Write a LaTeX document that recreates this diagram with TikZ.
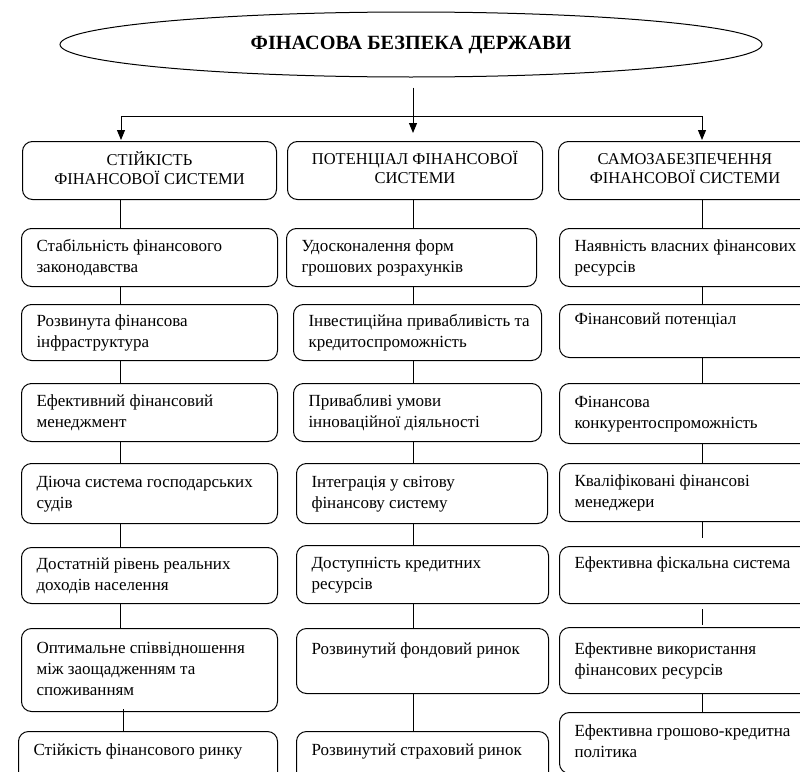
\documentclass[tikz,border=0pt]{standalone}
\usepackage{fontspec}
\setmainfont{Liberation Serif}
\usetikzlibrary{shapes.geometric,arrows.meta}

% left-aligned block of lines inside a box of width #1
\newcommand\lefttext[2]{\makebox[#1][l]{\hspace{15pt}\begin{tabular}{@{}l@{}}#2\end{tabular}}}
% centred block of lines
\newcommand\midtext[1]{\begin{tabular}{@{}c@{}}#1\end{tabular}}

\tikzset{
  x=1pt, y=-1pt,
  itembox/.style={draw, rounded corners=10pt, line width=1pt, inner sep=0pt,
    anchor=north west, font=\fontsize{17}{21}\selectfont},
  headbox/.style={itembox, font=\fontsize{16.5}{19}\selectfont},
  link/.style={line width=1pt},
  arr/.style={line width=1pt, -{Triangle[length=10pt,width=8pt]}},
}

\begin{document}
\begin{tikzpicture}
\useasboundingbox (0,0) rectangle (800,771);
\clip (0,0) rectangle (800,771);

% title
\node[ellipse, draw, line width=1pt, minimum width=702pt, minimum height=65pt,
  inner sep=0pt, font=\fontsize{20.2}{24}\selectfont\bfseries] (title) at (411,44.5)
  {\raisebox{3pt}{ФІНАСОВА БЕЗПЕКА ДЕРЖАВИ}};

% column axes
\coordinate (k1) at (120,0);
\coordinate (k2) at (413,0);
\coordinate (k3) at (702,0);
\coordinate (busL) at (121,116);
\coordinate (busR) at (702,116);

% heads of the three columns
\node[headbox, minimum width=254pt, minimum height=58pt] (t1) at (22,141)
  {\midtext{СТІЙКІСТЬ\\ФІНАНСОВОЇ СИСТЕМИ}};
\node[headbox, minimum width=255pt, minimum height=58pt] (t2) at (287,141)
  {\midtext{ПОТЕНЦІАЛ ФІНАНСОВОЇ\\СИСТЕМИ}};
\node[headbox, minimum width=253pt, minimum height=58pt] (t3) at (558,141)
  {\midtext{САМОЗАБЕЗПЕЧЕННЯ\\ФІНАНСОВОЇ СИСТЕМИ}};

% column 1
\node[itembox, minimum height=58pt] (a1) at (21,228) {\lefttext{256pt}{Стабільність фінансового\\законодавства}};
\node[itembox, minimum height=56pt] (a2) at (21,304) {\lefttext{256pt}{Розвинута фінансова\\інфраструктура}};
\node[itembox, minimum height=58pt] (a3) at (21,383) {\lefttext{256pt}{Ефективний фінансовий\\менеджмент}};
\node[itembox, minimum height=60pt] (a4) at (21,463) {\lefttext{256pt}{Діюча система господарських\\судів}};
\node[itembox, minimum height=56pt] (a5) at (21,547) {\lefttext{256pt}{Достатній рівень реальних\\доходів населення}};
\node[itembox, minimum height=83pt] (a6) at (21,628) {\lefttext{256pt}{Оптимальне співвідношення\\між заощадженням та\\споживанням}};
\node[itembox, minimum height=60pt] (a7) at (18,731) {\lefttext{259pt}{Стійкість фінансового ринку\\ \mbox{}}};

% column 2
\node[itembox, minimum height=58pt] (b1) at (286,228) {\lefttext{250pt}{Удосконалення форм\\грошових розрахунків}};
\node[itembox, minimum height=56pt] (b2) at (293,304) {\lefttext{248pt}{Інвестиційна привабливість та\\кредитоспроможність}};
\node[itembox, minimum height=58pt] (b3) at (293,383) {\lefttext{248pt}{Привабливі умови\\інноваційної діяльності}};
\node[itembox, minimum height=60pt] (b4) at (296,463) {\lefttext{251pt}{Інтеграція у світову\\фінансову систему}};
\node[itembox, minimum height=58pt] (b5) at (296,545) {\lefttext{252pt}{Доступність кредитних\\ресурсів}};
\node[itembox, minimum height=65pt] (b6) at (296,628) {\lefttext{252pt}{Розвинутий фондовий ринок\\ \mbox{}}};
\node[itembox, minimum height=60pt] (b7) at (296,731) {\lefttext{252pt}{Розвинутий страховий ринок\\ \mbox{}}};

% column 3
\node[itembox, minimum height=58pt] (c1) at (559,228) {\lefttext{252pt}{Наявність власних фінансових\\ресурсів}};
\node[itembox, minimum height=53pt] (c2) at (559,304) {\lefttext{252pt}{Фінансовий потенціал\\ \mbox{}}};
\node[itembox, minimum height=60pt] (c3) at (559,383) {\lefttext{252pt}{Фінансова\\конкурентоспроможність}};
\node[itembox, minimum height=58pt] (c4) at (559,463) {\lefttext{252pt}{Кваліфіковані фінансові\\менеджери}};
\node[itembox, minimum height=57pt] (c5) at (559,546) {\lefttext{252pt}{Ефективна фіскальна система\\ \mbox{}}};
\node[itembox, minimum height=66pt] (c6) at (559,627) {\lefttext{252pt}{Ефективне використання\\фінансових ресурсів}};
\node[itembox, minimum height=61pt] (c7) at (559,712) {\lefttext{252pt}{Ефективна грошово-кредитна\\політика}};

% arrows from the title
\draw[arr, shorten <=10pt, shorten >=8pt] (title.south -| k2) -- (t2.north -| k2);
\draw[link] (busL) -- (busR);
\draw[arr, shorten >=1pt] (busL) -- (busL |- t1.north);
\draw[arr, shorten >=1pt] (busR) -- (busR |- t3.north);

% column 1 links
\draw[link] (t1.south -| k1) -- (a1.north -| k1);
\draw[link] (a1.south -| k1) -- (a2.north -| k1);
\draw[link] (a2.south -| k1) -- (a3.north -| k1);
\draw[link] (a3.south -| k1) -- (a4.north -| k1);
\draw[link] (a4.south -| k1) -- (a5.north -| k1);
\draw[link] (a5.south -| k1) -- (a6.north -| k1);
\draw[link, shorten <=-3pt] ([xshift=3pt]a6.south -| k1) -- ([xshift=3pt]a7.north -| k1);

% column 2 links
\draw[link] (t2.south -| k2) -- (b1.north -| k2);
\draw[link] (b1.south -| k2) -- (b2.north -| k2);
\draw[link] (b2.south -| k2) -- (b3.north -| k2);
\draw[link] (b3.south -| k2) -- (b4.north -| k2);
\draw[link] (b4.south -| k2) -- (b5.north -| k2);
\draw[link] (b5.south -| k2) -- (b6.north -| k2);
\draw[link] (b6.south -| k2) -- (b7.north -| k2);

% column 3 links
\draw[link] (t3.south -| k3) -- (c1.north -| k3);
\draw[link] (c1.south -| k3) -- (c2.north -| k3);
\draw[link] (c2.south -| k3) -- (c3.north -| k3);
\draw[link] (c3.south -| k3) -- (c4.north -| k3);
\draw[link, shorten >=8pt] (c4.south -| k3) -- (c5.north -| k3);
\draw[link, shorten <=5pt, shorten >=2pt] (c5.south -| k3) -- (c6.north -| k3);
\draw[link] (c6.south -| k3) -- (c7.north -| k3);
\end{tikzpicture}
\end{document}
